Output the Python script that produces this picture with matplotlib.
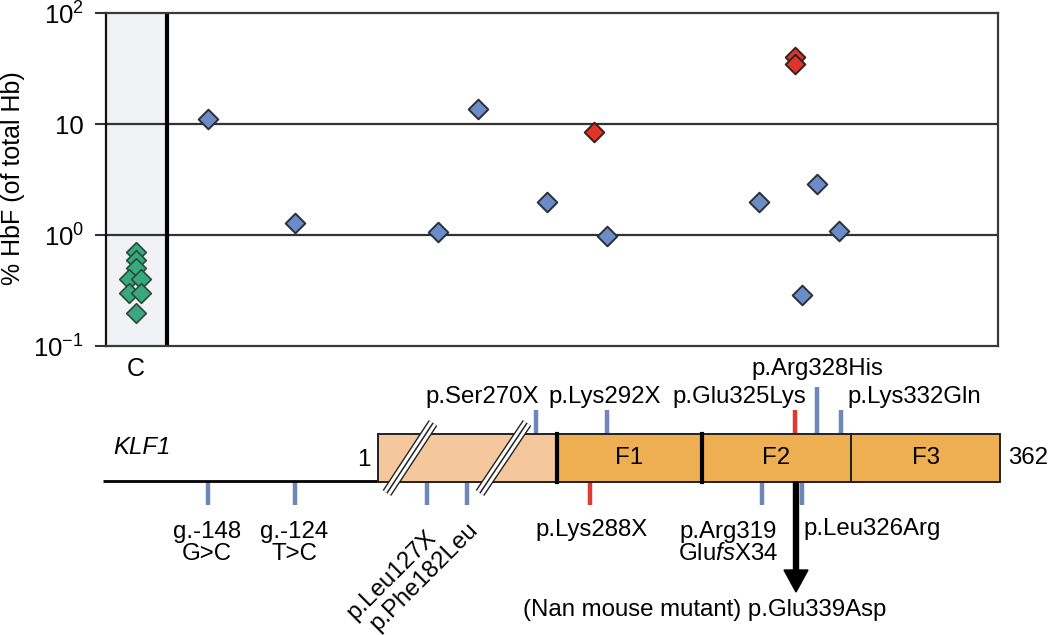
import matplotlib
matplotlib.use('Agg')
import matplotlib.pyplot as plt
from matplotlib.patches import Rectangle, FancyArrow

plt.rcParams['font.family'] = ['Liberation Sans', 'DejaVu Sans']
plt.rcParams['mathtext.fontset'] = 'custom'
plt.rcParams['mathtext.rm'] = 'Liberation Sans'
plt.rcParams['mathtext.it'] = 'Liberation Sans:italic'

# ---------------- data ----------------
# horizontal placement of each sample (aligned with gene diagram positions)
control_x = [136, 136, 136, 129, 141, 129, 141, 136]
control_hbf = [0.7, 0.6, 0.5, 0.4, 0.4, 0.3, 0.3, 0.2]
carrier_x = [208, 295, 438, 478, 547, 607, 759, 802, 817, 839]
carrier_hbf = [11.0, 1.27, 1.07, 13.6, 2.0, 0.97, 1.97, 0.29, 2.86, 1.09]
severe_x = [594, 795, 795]
severe_hbf = [8.5, 40.0, 35.0]

ytick_vals = [0.1, 1, 10, 100]
ytick_labels = [r'$\mathregular{10^{-1}}$', r'$\mathregular{10^{0}}$', '10',
                r'$\mathregular{10^{2}}$']

# gene diagram: mutations (label, x, colour)
muts_above = [('p.Ser270X', 536, 'blue'), ('p.Lys292X', 607, 'blue'),
              ('p.Glu325Lys', 795, 'red'), ('p.Arg328His', 817, 'blue'),
              ('p.Lys332Gln', 841, 'blue')]
muts_below = [('g.-148', 208, 'blue'), ('g.-124', 295, 'blue'),
              ('p.Leu127X', 427, 'blue'), ('p.Phe182Leu', 467, 'blue'),
              ('p.Lys288X', 590, 'red'), ('p.Arg319', 762, 'blue'),
              ('p.Leu326Arg', 802, 'blue')]
domains = ['F1', 'F2', 'F3']

BLUE = '#6b8cc7'
RED = '#e0342b'
GREEN = '#3aa87e'
TICKBLUE = '#6f87b8'
TICKRED = '#e03a2e'
FS = 17.3

W, H = 1050, 635
fig = plt.figure(figsize=(10.5, 6.35), dpi=100)

# ---------------- top scatter axes ----------------
L, R, T, B = 106, 998, 13, 346
ax = fig.add_axes([L / W, 1 - B / H, (R - L) / W, (B - T) / H])
ax.set_yscale('log')
ax.set_ylim(0.1, 100)
ax.set_xlim(L, R)
ax.axvspan(L, 167, color='#f0f2f5', zorder=0)
ax.axvline(167, color='black', lw=3, zorder=2)
for yv in [1, 10]:
    ax.axhline(yv, color='#333333', lw=1.6, zorder=1)
ax.scatter(control_x, control_hbf, marker='D', s=100, color=GREEN,
           edgecolor='#2a4a3a', linewidth=1.2, zorder=4, clip_on=False)
ax.scatter(carrier_x, carrier_hbf, marker='D', s=100, color=BLUE,
           edgecolor='#2b2f3a', linewidth=1.4, zorder=4, clip_on=False)
ax.scatter(severe_x, severe_hbf, marker='D', s=100, color=RED,
           edgecolor='#3a2020', linewidth=1.4, zorder=5, clip_on=False)
ax.set_yticks(ytick_vals)
ax.set_yticklabels(ytick_labels, fontsize=18.5)
ax.yaxis.set_minor_locator(matplotlib.ticker.NullLocator())
ax.tick_params(axis='y', direction='out', length=8, width=1.5, color='#333333', pad=8)
ax.set_xticks([136])
ax.set_xticklabels(['C'], fontsize=18)
ax.tick_params(axis='x', length=0, pad=8)
for side, sp in ax.spines.items():
    sp.set_linewidth(1.6)
    sp.set_color('#3a3a3a')
ax.spines['left'].set_color('#111111')
fig.text(13 / W, 1 - 178 / H, '% HbF (of total Hb)', rotation=90,
         ha='center', va='center', fontsize=18)

# ---------------- gene diagram ----------------
g = fig.add_axes([0, 0, 1, 1], zorder=-1)
g.set_xlim(0, W)
g.set_ylim(H, 0)
g.axis('off')

base_y, box_top, box_bot = 481, 434, 482
g.plot([103, 378], [base_y, base_y], color='black', lw=2, solid_capstyle='butt')
g.add_patch(Rectangle((378, box_top), 557 - 378, box_bot - box_top,
                      facecolor='#f5c79c', edgecolor='#222222', lw=1.4, zorder=2))
dom_edges = [557, 702, 851, 1000]
for i, name in enumerate(domains):
    x0, x1 = dom_edges[i], dom_edges[i + 1]
    g.add_patch(Rectangle((x0, box_top), x1 - x0, box_bot - box_top,
                          facecolor='#eeae52', edgecolor='#222222', lw=1.4, zorder=2))
    g.text((x0 + x1) / 2, 458, name, ha='center', va='center', fontsize=FS, zorder=5)
g.plot([557, 557], [box_top, box_bot], color='black', lw=3, zorder=3)
g.plot([702, 702], [box_top, box_bot], color='black', lw=3, zorder=3)

# break marks "//"
for (xa, xb) in [(387, 433), (480, 527)]:
    g.plot([xa, xb], [493, 423], color='#222222', lw=7.5, zorder=4,
           solid_capstyle='butt')
    g.plot([xa, xb], [493, 423], color='white', lw=5.5, zorder=4,
           solid_capstyle='butt')
    g.plot([xa, xb], [493, 423], color='#222222', lw=1.1, zorder=4,
           solid_capstyle='butt')

colmap = {'blue': TICKBLUE, 'red': TICKRED}
for name, x, c in muts_above:
    top = 387 if name == 'p.Arg328His' else 410
    g.plot([x, x], [top, box_top], color=colmap[c], lw=3.2, solid_capstyle='butt', zorder=1)
for name, x, c in muts_below:
    g.plot([x, x], [box_bot, 505], color=colmap[c], lw=3.2, solid_capstyle='butt', zorder=1)

# labels above
g.text(539, 397, 'p.Ser270X', ha='right', va='center', fontsize=FS)
g.text(605, 397, 'p.Lys292X', ha='center', va='center', fontsize=FS)
g.text(739, 397, 'p.Glu325Lys', ha='center', va='center', fontsize=FS)
g.text(817, 369, 'p.Arg328His', ha='center', va='center', fontsize=FS)
g.text(847, 397, 'p.Lys332Gln', ha='left', va='center', fontsize=FS)
# labels below
g.text(207, 543, 'g.-148\nG>C', ha='center', va='center', fontsize=FS, linespacing=1.05)
g.text(294, 543, 'g.-124\nT>C', ha='center', va='center', fontsize=FS, linespacing=1.05)
g.text(433, 534, 'p.Leu127X', ha='right', va='center', rotation=45,
       rotation_mode='anchor', fontsize=FS)
g.text(475, 526, 'p.Phe182Leu', ha='right', va='center', rotation=45,
       rotation_mode='anchor', fontsize=FS)
g.text(592, 530, 'p.Lys288X', ha='center', va='center', fontsize=FS)
g.text(728, 543, 'p.Arg319\nGlu$\\mathit{fs}$X34', ha='center', va='center',
       fontsize=FS, linespacing=1.05)
g.text(803, 529, 'p.Leu326Arg', ha='left', va='center', fontsize=FS)
g.text(705, 610, '(Nan mouse mutant) p.Glu339Asp', ha='center', va='center', fontsize=FS)
g.text(113, 448, 'KLF1', ha='left', va='center', fontsize=FS, style='italic')
g.text(364, 460, '1', ha='center', va='center', fontsize=FS)
g.text(1008, 458, '362', ha='left', va='center', fontsize=FS)

g.add_patch(FancyArrow(796, box_bot, 0, 110, width=5, head_width=24,
                       head_length=22, length_includes_head=True,
                       color='black', zorder=6))

fig.savefig('out.png', dpi=100)
